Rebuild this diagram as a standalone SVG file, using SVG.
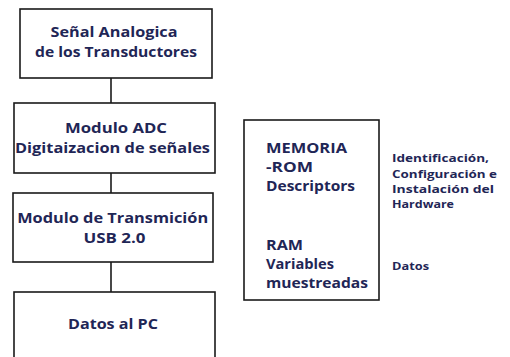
<svg xmlns="http://www.w3.org/2000/svg" width="510" height="357" viewBox="0 0 510 357">
<style>
.box{fill:#fff;stroke:#1a1a1a;stroke-width:1.6}
.t{font-family:"Open Sans","Liberation Sans",sans-serif;font-weight:bold;fill:#1f2656;font-size:14px}
.c{text-anchor:middle}
.s{font-size:11px}
.ln{stroke:#1a1a1a;stroke-width:1.6;fill:none}
</style>
<rect width="510" height="357" fill="#fff"/>
<g id="connectors">
<line class="ln" x1="111" y1="78" x2="111" y2="103"/>
<line class="ln" x1="111" y1="173" x2="111" y2="193"/>
<line class="ln" x1="111" y1="262" x2="111" y2="292"/>
</g>
<g id="n1">
<rect class="box" x="20" y="9" width="192" height="69"/>
<text class="t c" x="114" y="37" textLength="127" lengthAdjust="spacingAndGlyphs">Señal Analogica</text>
<text class="t c" x="116" y="57" textLength="162" lengthAdjust="spacingAndGlyphs">de los Transductores</text>
</g>
<g id="n2">
<rect class="box" x="14" y="103" width="201" height="70"/>
<text class="t c" x="116" y="133" textLength="102" lengthAdjust="spacingAndGlyphs">Modulo ADC</text>
<text class="t c" x="112.5" y="153" textLength="195" lengthAdjust="spacingAndGlyphs">Digitaizacion de señales</text>
</g>
<g id="n3">
<rect class="box" x="13" y="193" width="200" height="69"/>
<text class="t c" x="112.7" y="223" textLength="191" lengthAdjust="spacingAndGlyphs">Modulo de Transmición</text>
<text class="t c" x="114.5" y="243" textLength="62" lengthAdjust="spacingAndGlyphs">USB 2.0</text>
</g>
<g id="n4">
<rect class="box" x="14" y="292" width="201" height="70"/>
<text class="t c" x="113" y="329" textLength="90" lengthAdjust="spacingAndGlyphs">Datos al PC</text>
</g>
<g id="mem">
<rect class="box" x="244" y="120" width="135" height="180"/>
<text class="t" x="266" y="153" textLength="81" lengthAdjust="spacingAndGlyphs">MEMORIA</text>
<text class="t" x="266" y="172" textLength="47" lengthAdjust="spacingAndGlyphs">-ROM</text>
<text class="t" x="266" y="191" textLength="89" lengthAdjust="spacingAndGlyphs">Descriptors</text>
<text class="t" x="266" y="250" textLength="37" lengthAdjust="spacingAndGlyphs">RAM</text>
<text class="t" x="266" y="269" textLength="68" lengthAdjust="spacingAndGlyphs">Variables</text>
<text class="t" x="266" y="288" textLength="102" lengthAdjust="spacingAndGlyphs">muestreadas</text>
</g>
<g id="labels">
<text class="t s" x="392" y="162" textLength="97" lengthAdjust="spacingAndGlyphs">Identificación,</text>
<text class="t s" x="392" y="178" textLength="105" lengthAdjust="spacingAndGlyphs">Configuración e</text>
<text class="t s" x="392" y="193" textLength="102" lengthAdjust="spacingAndGlyphs">Instalación del</text>
<text class="t s" x="392" y="208" textLength="62" lengthAdjust="spacingAndGlyphs">Hardware</text>
<text class="t s" x="392" y="270" textLength="37" lengthAdjust="spacingAndGlyphs">Datos</text>
</g>
</svg>
